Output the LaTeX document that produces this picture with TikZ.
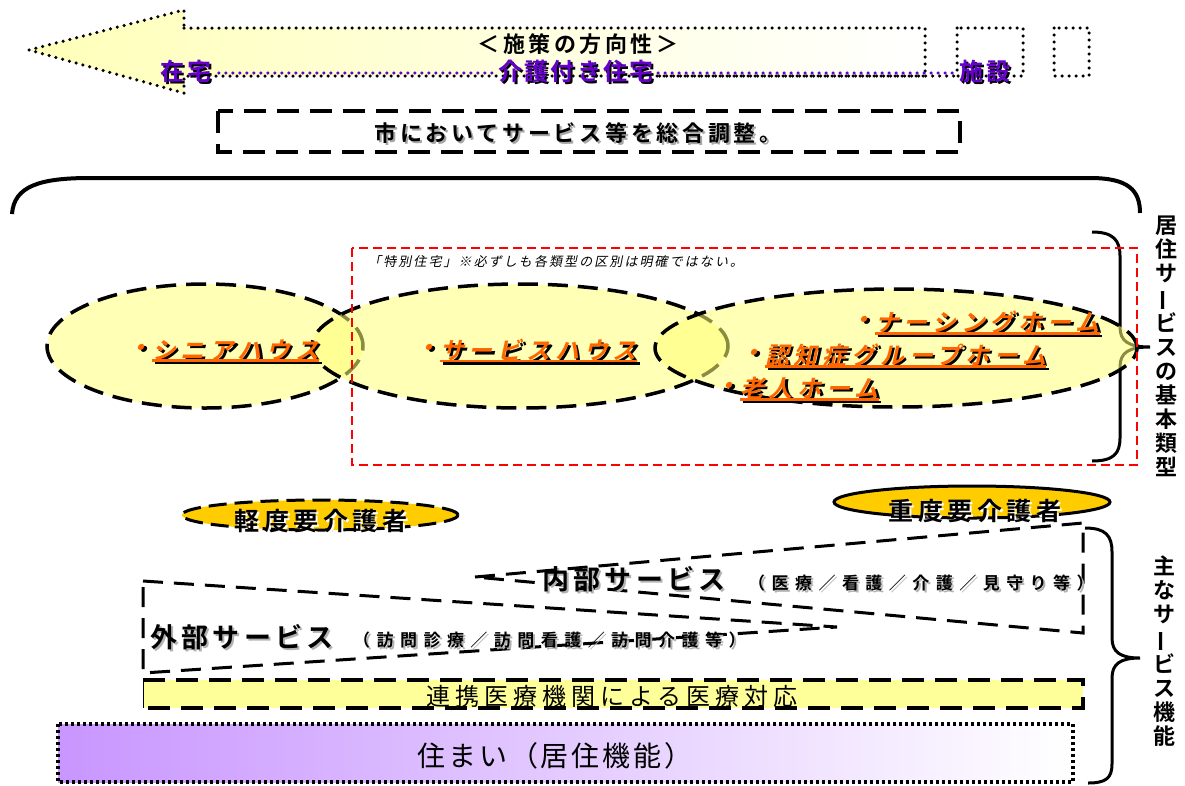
\documentclass[tikz,border=0pt]{standalone}
\usepackage{fontspec}
\setmainfont{Noto Sans CJK JP}[BoldFont={Noto Sans CJK JP Bold}]
\newfontfamily\slantjp{Noto Sans CJK JP}[FakeSlant=0.2]
\newfontfamily\slantbf{Noto Sans CJK JP Bold}[FakeSlant=0.22]
\usetikzlibrary{calc,shapes.geometric}

\definecolor{placepurple}{RGB}{102,0,204}
\definecolor{careorange}{RGB}{255,102,0}
\definecolor{goldfill}{RGB}{255,204,0}
\definecolor{baryellow}{RGB}{255,255,153}
\definecolor{blobyellow}{RGB}{255,255,120}
\definecolor{boxpurple}{RGB}{200,150,255}
\definecolor{arrowyellow}{RGB}{255,255,185}

\newcommand{\fsz}[2]{\fontsize{#1}{#1}\selectfont\addfontfeatures{LetterSpace=#2}}
\newcommand{\choon}{\rotatebox[origin=c]{90}{ー}}
\newcommand{\shadowed}[5]{%
  \node[#4,text=#3] at ($(#2)+(2,2)$) {#5};
  \node[#4] (#1) at (#2) {#5};}
\newcommand{\careplace}[3]{%
  \node[carelabel,text=black] at ($(#2)+(2.5,2.5)$) {#3};
  \node[carelabel] (#1) at (#2) {#3};
  \draw[line width=2.5pt,black] ($(#1.south west)+(2.5,2.5)$) -- ($(#1.south east)+(2.5,2.5)$);
  \draw[line width=2.5pt,careorange] (#1.south west) -- (#1.south east);
  \node[carelabel,text=black,anchor=east] at ($(#1.west)+(2.5,2.5)$) {・};
  \node[carelabel,anchor=east] (#1-dot) at (#1.west) {・};}

\begin{document}
\begin{tikzpicture}[x=1pt,y=-1pt]
\tikzstyle{dotline}=[line width=3.5pt,line cap=round,dash pattern=on 0pt off 7pt]
\tikzstyle{dashline}=[line width=3.5pt,dash pattern=on 22pt off 11pt]
\tikzstyle{svcwedge}=[line width=3pt,dash pattern=on 20pt off 11pt]
\tikzstyle{blob}=[ellipse,draw=black,line width=3.5pt,dash pattern=on 20pt off 10pt,fill=blobyellow,fill opacity=0.55,inner sep=0pt]
\tikzstyle{gold}=[ellipse,draw=black,line width=3pt,fill=goldfill,inner sep=0pt]
\tikzstyle{placelabel}=[inner sep=0pt,font=\bfseries\fsz{24}{10},text=placepurple]
\tikzstyle{notelabel}=[inner sep=0pt,font=\bfseries\fsz{22}{17}]
\tikzstyle{carelabel}=[anchor=west,inner sep=0pt,font=\slantbf\fsz{24}{20},text=careorange]
\tikzstyle{carelevel}=[inner sep=0pt,font=\bfseries\fsz{25}{18}]
\tikzstyle{servtitle}=[anchor=west,inner sep=0pt,font=\bfseries\fsz{27}{16}]
\tikzstyle{servdetail}=[anchor=west,inner sep=0pt,font=\bfseries\fsz{17}{38}]
\tikzstyle{vlabel}=[align=center,inner sep=0pt,font=\bfseries\fontsize{22}{24}\selectfont]
\useasboundingbox (0,0) rectangle (1185,785);

\draw[dotline,left color=arrowyellow,right color=white] (184,28) -- (925,28) -- (925,76) -- (184,76) -- (184,93) -- (29,50) -- (184,10) -- cycle;
\draw[dotline] (957,28) rectangle (1023,76);
\draw[dotline] (1054,28) rectangle (1089,76);
\node[font=\bfseries\fsz{22}{16},inner sep=0pt] (policy) at (578,44) {＜施策の方向性＞};
\shadowed{zaitaku}{186,71}{black}{placelabel}{在宅}
\shadowed{kaigo}{576,71}{black}{placelabel}{介護付き住宅}
\shadowed{shisetsu}{985,71}{black}{placelabel}{施設}
\draw[dotline,placepurple,dash phase=3.5pt] ($(zaitaku.east)+(4,2)$) -- ($(kaigo.west)+(-2,2)$);
\draw[dotline,black] ($(kaigo.east)+(5.5,5)$) -- ($(shisetsu.west)+(-0.5,5)$);
\draw[dotline,placepurple] ($(kaigo.east)+(4,2)$) -- ($(shisetsu.west)+(-2,2)$);

\draw[dashline] (218,111) rectangle (960,152);
\shadowed{chosei}{578,133}{gray!70}{notelabel}{市においてサービス等を総合調整。}

\draw[line width=4pt] (12,214) .. controls (14,186) and (40,178) .. (90,178) -- (1090,178) .. controls (1128,178) and (1140,190) .. (1140,213);
\draw[line width=3pt] (1092,232) .. controls (1113,232) and (1120,240) .. (1120,256) -- (1120,327) .. controls (1120,341) and (1128,347) .. (1150,347) .. controls (1128,347) and (1120,353) .. (1120,367) -- (1120,438) .. controls (1120,454) and (1113,461) .. (1092,461);

\node[blob,minimum width=316pt,minimum height=124pt] (senior) at (205,346) {};
\node[blob,minimum width=416pt,minimum height=124pt] (service) at (520,346) {};
\node[blob,minimum width=482pt,minimum height=118pt] (nursing) at (896,348) {};
\draw[red,line width=1.5pt,dash pattern=on 9pt off 5pt] (352,248) rectangle (1137,465);
\node[font=\slantjp\fsz{13}{16},anchor=west,inner sep=0pt] (tokubetsu) at (368,262) {「特別住宅」※必ずしも各類型の区別は明確ではない。};

\careplace{seniorhouse}{152,350}{シニアハウス}
\careplace{servicehouse}{440,350}{サービスハウス}
\careplace{nursinghome}{875,322}{ナーシングホーム}
\careplace{grouphome}{765,355}{認知症グループホーム}
\careplace{oldhome}{740,388}{老人ホーム}

\node[vlabel] (kihon) at (1166,346) {居\\住\\サ\\\choon\\ビ\\ス\\の\\基\\本\\類\\型};

\coordinate (inApex) at (475,577);
\coordinate (inTR) at (1083,523);
\coordinate (inBR) at (1083,633);
\coordinate (exTL) at (143,581);
\coordinate (exApex) at (837,627);
\coordinate (exBL) at (143,673);
\draw[svcwedge] (inApex) -- (inTR) -- (inBR) -- cycle;
\draw[svcwedge] (exTL) -- (exApex) -- (exBL) -- cycle;

\node[gold,dash pattern=on 18pt off 8pt,minimum width=276pt,minimum height=30pt] (light) at (320,515) {};
\node[gold,minimum width=276pt,minimum height=32pt] (heavy) at (972,502) {};
\shadowed{lighttext}{321,521}{white}{carelevel}{軽度要介護者}
\shadowed{heavytext}{975,511}{white}{carelevel}{重度要介護者}

\shadowed{naibu}{542,579}{gray!60}{servtitle}{内部サービス}
\shadowed{naibudetail}{748,583}{gray!60}{servdetail}{（医療／看護／介護／見守り等）}
\shadowed{gaibu}{150,637}{gray!60}{servtitle}{外部サービス}
\shadowed{gaibudetail}{353,640}{gray!60}{servdetail}{（訪問診療／訪問看護／訪問介護等）}

\fill[baryellow] (143,680) rectangle (1083,708);
\draw[dashline] (143,680) -- (1083,680) -- (1083,708) -- (143,708);
\draw[line width=1pt] (143,680) -- (143,708);
\node[font=\fsz{24}{21},inner sep=0pt] (renkei) at (612,696) {連携医療機関による医療対応};

\draw[line width=4pt,dash pattern=on 3pt off 3pt,left color=boxpurple,right color=white] (58,724) rectangle (1073,782);
\node[font=\fsz{28}{10},inner sep=0pt] (sumai) at (555,756) {住まい（居住機能）};

\draw[line width=3pt] (1085,528) .. controls (1106,528) and (1112,536) .. (1112,552) -- (1112,638) .. controls (1112,652) and (1120,658) .. (1140,658) .. controls (1120,658) and (1112,664) .. (1112,678) -- (1112,764) .. controls (1112,778) and (1106,783) .. (1088,783);
\node[vlabel] (shuyo) at (1164,651) {主\\な\\サ\\\choon\\ビ\\ス\\機\\能};
\end{tikzpicture}
\end{document}
